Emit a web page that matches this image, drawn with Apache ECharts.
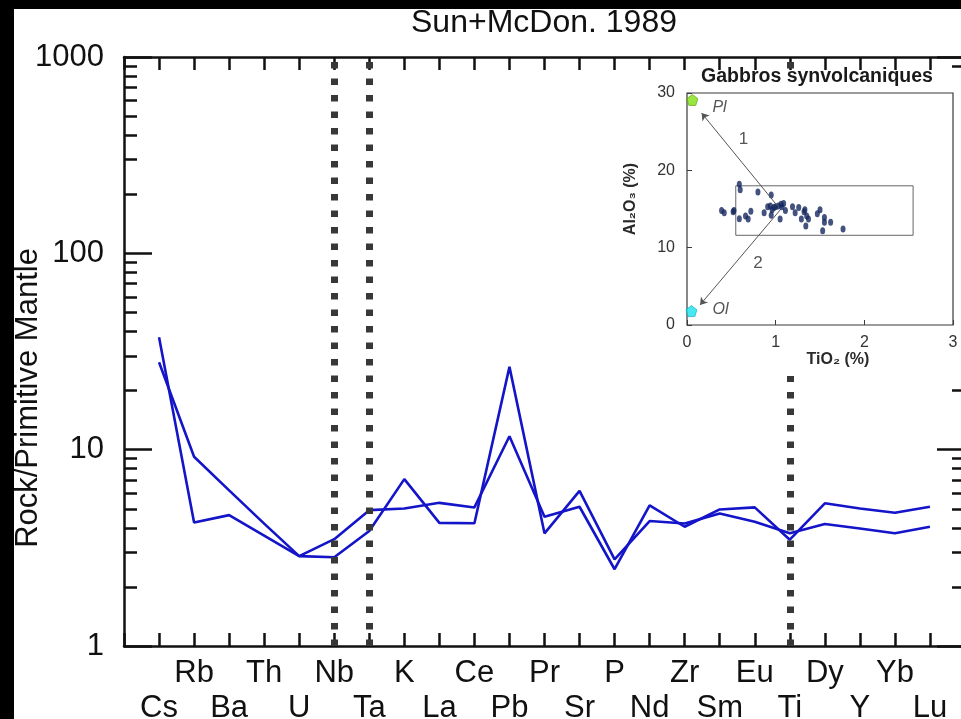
<!DOCTYPE html>
<html>
<head>
<meta charset="utf-8">
<script src="https://cdn.jsdelivr.net/npm/echarts@6/dist/echarts.min.js"></script>
<style>
  html, body { margin: 0; padding: 0; background: #fff; }
  #chart { width: 961px; height: 719px; }
</style>
</head>
<body>
<div id="chart"></div>
<script>
// Spider diagram: rock / primitive mantle (Sun & McDonough 1989)
const elements = ['Cs', 'Rb', 'Ba', 'Th', 'U', 'Nb', 'Ta', 'K', 'La', 'Ce', 'Pb', 'Pr',
  'Sr', 'P', 'Nd', 'Zr', 'Sm', 'Eu', 'Ti', 'Dy', 'Y', 'Yb', 'Lu'];
const sampleA = [37.4, 4.26, 4.64, 3.65, 2.87, 2.83, 3.85, 7.08, 4.24, 4.22, 26.4, 3.75,
  6.17, 2.76, 4.33, 4.21, 4.73, 4.29, 3.75, 4.18, 3.97, 3.75, 4.05];
const sampleB = [27.9, 9.2, 6.2, 4.2, 2.87, 3.5, 4.92, 5.02, 5.36, 5.08, 11.7, 4.55,
  5.12, 2.46, 5.2, 4.05, 4.96, 5.08, 3.48, 5.33, 5.02, 4.77, 5.12];
const anomalyElements = ['Nb', 'Ta', 'Ti'];
const yMinorTicks = [2, 3, 4, 5, 6, 7, 8, 9, 20, 30, 40, 50, 60, 70, 80, 90,
  200, 300, 400, 500, 600, 700, 800, 900];

// Inset: Al2O3 vs TiO2 of the synvolcanic gabbros
const gabbroTiO2 = [0.59, 0.60, 0.80, 0.95, 0.39, 0.42, 0.52, 0.53, 0.59, 0.66, 0.69, 0.72,
  0.87, 0.91, 0.94, 0.96, 0.95, 0.98, 1.00, 1.03, 1.06, 1.07, 1.09, 1.11, 1.05, 1.19, 1.22,
  1.26, 1.29, 1.32, 1.33, 1.35, 1.37, 1.34, 1.47, 1.50, 1.55, 1.55, 1.62, 1.53, 1.76];
const gabbroAl2O3 = [18.2, 17.5, 17.2, 16.8, 14.8, 14.5, 14.65, 14.8, 13.75, 14.1, 13.7, 14.7,
  14.5, 15.3, 15.4, 14.9, 14.2, 15.2, 15.3, 15.4, 15.6, 15.3, 15.7, 14.8, 13.7, 15.3, 14.5,
  15.2, 13.7, 14.65, 14.9, 14.1, 13.7, 12.8, 14.4, 14.9, 13.9, 13.3, 13.3, 12.2, 12.4];
const plagioclase = [0.06, 29.1];
const olivine = [0.05, 1.8];
const trendPl = [[1.02, 15.4], [0.165, 27.4]];
const trendOl = [[1.06, 15.0], [0.147, 2.6]];
const fieldBox = [[0.55, 11.6], [2.55, 18.0]];
const insetNotes = [
  { name: 'Pl', at: [0.367, 28.1], italic: true },
  { name: 'Ol', at: [0.378, 1.94], italic: true },
  { name: '1', at: [0.637, 24.05], italic: false },
  { name: '2', at: [0.80, 7.95], italic: false }
];

const FONT = '"Liberation Sans", Arial, Helvetica, sans-serif';
const INK = '#111';
const axisInk = { color: INK, width: 2.5 };
const insetInk = { color: '#3a3a3a', width: 1 };
const minorExponents = yMinorTicks.map(v => Math.log10(v));
const toPairs = arr => arr.map((v, i) => [i, v]);
const pentagon = 'path://M0,-10 L9.5,-3.1 L5.9,8.1 L-5.9,8.1 L-9.5,-3.1 Z';

const chart = echarts.init(document.getElementById('chart'), null, { renderer: 'canvas' });

const elementLabel = v => {
  const i = Math.round(v);
  if (i < 0 || i >= elements.length) return '';
  return i % 2 === 1 ? elements[i] : '\n' + elements[i];
};

const mainLine = { show: true, onZero: false, lineStyle: axisInk };

const option = {
  animation: false,
  backgroundColor: '#fff',
  textStyle: { fontFamily: FONT },
  grid: [
    { left: 124, top: 57, width: 841, height: 589, containLabel: false, outerBoundsMode: 'none' },
    { left: 687, top: 93, width: 266, height: 232, containLabel: false, outerBoundsMode: 'none',
      show: true, borderColor: '#3a3a3a', borderWidth: 1.2, backgroundColor: 'rgba(0,0,0,0)', z: 60 }
  ],
  xAxis: [
    {
      type: 'value', gridIndex: 0, position: 'bottom', min: -1, max: elements.length, interval: 1,
      splitLine: { show: false },
      axisLine: mainLine,
      axisTick: { show: true, inside: true, length: 13, lineStyle: axisInk },
      axisLabel: { formatter: elementLabel, fontSize: 31, color: INK, lineHeight: 35, margin: 10,
        showMinLabel: true, showMaxLabel: true }
    },
    {
      type: 'value', gridIndex: 0, position: 'top', min: -1, max: elements.length, interval: 1,
      splitLine: { show: false },
      axisLine: mainLine,
      axisTick: { show: true, inside: true, length: 13, lineStyle: axisInk },
      axisLabel: { show: false }
    },
    {
      type: 'value', gridIndex: 1, min: 0, max: 3, interval: 1, z: 60,
      splitLine: { show: false },
      axisLine: { show: false, onZero: false },
      axisTick: { show: true, inside: true, length: 5, lineStyle: insetInk },
      axisLabel: { fontSize: 16, color: '#333', margin: 10 }
    }
  ],
  yAxis: [
    {
      type: 'log', logBase: 10, gridIndex: 0, position: 'left', min: 1, max: 1000,
      splitLine: { show: false },
      axisLine: mainLine,
      axisTick: { show: true, inside: true, length: 28, lineStyle: axisInk },
      axisLabel: { formatter: v => String(v), fontSize: 31, color: INK, margin: 20 }
    },
    {
      type: 'log', logBase: 10, gridIndex: 0, position: 'right', min: 1, max: 1000,
      splitLine: { show: false },
      axisLine: mainLine,
      axisTick: { show: true, inside: true, length: 28, lineStyle: axisInk },
      axisLabel: { show: false }
    },
    {
      // minor decade ticks (2..9 of each decade), in log10 units
      type: 'value', gridIndex: 0, position: 'left', min: 0, max: 3,
      splitLine: { show: false }, axisLine: { show: false, onZero: false }, axisLabel: { show: false },
      axisTick: { show: true, inside: true, length: 13, customValues: minorExponents, lineStyle: axisInk }
    },
    {
      type: 'value', gridIndex: 0, position: 'right', min: 0, max: 3,
      splitLine: { show: false }, axisLine: { show: false, onZero: false }, axisLabel: { show: false },
      axisTick: { show: true, inside: true, length: 13, customValues: minorExponents, lineStyle: axisInk }
    },
    {
      type: 'value', gridIndex: 1, min: 0, max: 30, interval: 10, z: 60,
      splitLine: { show: false },
      axisLine: { show: false, onZero: false },
      axisTick: { show: true, inside: true, length: 5, lineStyle: insetInk },
      axisLabel: { fontSize: 16, color: '#333', margin: 12 }
    }
  ],
  series: [
    {
      name: 'sample A', type: 'line', xAxisIndex: 0, yAxisIndex: 0, z: 2,
      data: toPairs(sampleA), symbol: 'none', showSymbol: false,
      lineStyle: { color: '#1414c8', width: 2.6 }
    },
    {
      name: 'sample B', type: 'line', xAxisIndex: 0, yAxisIndex: 0, z: 2,
      data: toPairs(sampleB), symbol: 'none', showSymbol: false,
      lineStyle: { color: '#1414c8', width: 2.6 }
    },
    {
      name: 'anomalies', type: 'line', xAxisIndex: 0, yAxisIndex: 0, z: 3, data: [],
      markLine: {
        silent: true, symbol: ['none', 'none'], label: { show: false }, z: 6,
        lineStyle: { color: '#383838', width: 7, type: [6.5, 10], cap: 'butt' },
        data: anomalyElements.map(e => ({ xAxis: elements.indexOf(e) }))
      }
    },
    {
      name: 'gabbros', type: 'scatter', xAxisIndex: 2, yAxisIndex: 4, z: 70,
      data: gabbroTiO2.map((t, i) => [t, gabbroAl2O3[i]]),
      symbol: 'circle', symbolSize: [5, 7],
      itemStyle: { color: '#14275e' },
      markLine: {
        silent: true, z: 75, symbol: ['none', 'arrow'], symbolSize: 7, label: { show: false },
        lineStyle: { color: '#555', width: 1, type: 'solid' },
        data: [
          [{ coord: trendPl[0] }, { coord: trendPl[1] }],
          [{ coord: trendOl[0] }, { coord: trendOl[1] }]
        ]
      },
      markArea: {
        silent: true, z: 65, label: { show: false },
        itemStyle: { color: 'rgba(0,0,0,0)', borderColor: '#666', borderWidth: 1 },
        data: [[{ coord: fieldBox[0] }, { coord: fieldBox[1] }]]
      }
    },
    {
      name: 'minerals', type: 'scatter', xAxisIndex: 2, yAxisIndex: 4, z: 71,
      symbol: pentagon, symbolSize: 11,
      data: [
        { value: plagioclase, itemStyle: { color: '#7fe010', borderColor: '#5a9a00', borderWidth: 0.8 } },
        { value: olivine, itemStyle: { color: '#18e4f0', borderColor: '#10a8b8', borderWidth: 0.8 } }
      ]
    },
    {
      name: 'notes', type: 'scatter', xAxisIndex: 2, yAxisIndex: 4, z: 72,
      symbolSize: 0, silent: true,
      data: insetNotes.map(n => ({
        value: n.at, name: n.name,
        label: { show: true, position: 'inside', formatter: n.name,
          fontStyle: n.italic ? 'italic' : 'normal',
          fontSize: n.italic ? 16 : 17, color: '#2a2a2a' }
      }))
    }
  ],
  graphic: [
    // white panel behind the inset
    { type: 'rect', shape: { x: 606, y: 71, width: 360, height: 305 }, style: { fill: '#fff' }, z: 50, silent: true },
    { type: 'text', x: 544, y: 23, z: 90,
      style: { text: 'Sun+McDon. 1989', font: '32px ' + FONT, fill: INK, align: 'center', verticalAlign: 'middle' } },
    { type: 'text', x: 28, y: 398, rotation: Math.PI / 2, z: 90,
      style: { text: 'Rock/Primitive Mantle', font: '31px ' + FONT, fill: INK, align: 'center', verticalAlign: 'middle' } },
    { type: 'text', x: 817, y: 77, z: 90,
      style: { text: 'Gabbros synvolcaniques', font: 'bold 19.5px ' + FONT, fill: '#1a1a1a', align: 'center', verticalAlign: 'middle' } },
    { type: 'text', x: 838, y: 360, z: 90,
      style: { text: 'TiO\u2082 (%)', font: 'bold 16px ' + FONT, fill: '#2a2a2a', align: 'center', verticalAlign: 'middle' } },
    { type: 'text', x: 631, y: 199, rotation: Math.PI / 2, z: 90,
      style: { text: 'Al\u2082O\u2083 (%)', font: 'bold 16px ' + FONT, fill: '#2a2a2a', align: 'center', verticalAlign: 'middle' } },
    // black frame strips along the top and left edges
    { type: 'rect', shape: { x: 0, y: 0, width: 961, height: 9 }, style: { fill: '#000' }, z: 100, silent: true },
    { type: 'rect', shape: { x: 0, y: 0, width: 14, height: 719 }, style: { fill: '#000' }, z: 100, silent: true }
  ]
};

chart.setOption(option);
</script>
</body>
</html>
